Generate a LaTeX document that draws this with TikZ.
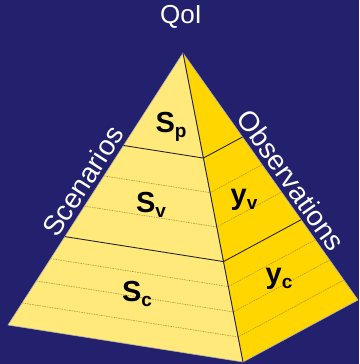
\documentclass[tikz,border=0pt]{standalone}
\usepackage{fontspec}
\setmainfont{Liberation Sans}
\usetikzlibrary{calc}
\definecolor{bgblue}{RGB}{35,33,110}
\definecolor{lightgold}{RGB}{255,233,122}
\definecolor{gold}{RGB}{255,214,0}
\definecolor{hatch}{RGB}{175,150,60}
\newcommand{\lbl}[2]{#1\raisebox{-5pt}{\fontsize{19}{19}\selectfont #2}}

\begin{document}
\begin{tikzpicture}[x=1pt,y=-1pt,
  face/.style={draw=gray!60,line width=0.6pt,line join=round},
  band/.style={draw=black!85,line width=0.9pt},
  level/.style={draw=hatch,dash pattern=on 1.5pt off 1pt,line width=0.6pt},
  side/.style={text=white,font=\fontsize{28}{28}\selectfont},
  part/.style={font=\fontsize{29}{30}\selectfont\bfseries}]
\fill[bgblue] (0,0) rectangle (359,364);
\useasboundingbox (0,0) rectangle (359,364);
% corners of the pyramid
\coordinate (apex) at (183,53);
\coordinate (left) at (8,325);
\coordinate (front) at (243,362);
\coordinate (right) at (358,300);
% faces
\filldraw[face,fill=lightgold] (apex) -- (left) -- (front) -- cycle;
\filldraw[face,fill=gold] (apex) -- (front) -- (right) -- cycle;
% thin levels
\foreach \t in {0.452,0.563,0.756,0.838,0.919}
  \draw[level] ($(apex)!\t!(left)$) -- ($(apex)!\t!(front)$) -- ($(apex)!\t!(right)$);
% band borders
\foreach \t in {0.34,0.675}
  \draw[band] ($(apex)!\t!(left)$) -- ($(apex)!\t!(front)$) -- ($(apex)!\t!(right)$);
\draw[band] (apex) -- (front);
% labels
\node[side,font=\fontsize{26}{26}\selectfont] (qoi) at (181,17) {QoI};
\path (left) -- (apex) node[side,sloped,above=1pt,pos=0.5] (scen) {Scenarios};
\path (apex) -- (right) node[side,sloped,above=1pt,pos=0.55] (obs) {Observations};
\node[part] (sp) at (171,127) {\lbl{S}{p}};
\node[part] (sv) at (151,205) {\lbl{S}{v}};
\node[part] (sc) at (137,294) {\lbl{S}{c}};
\node[part] (yv) at (244,200) {\lbl{y}{v}};
\node[part] (yc) at (279,279) {\lbl{y}{c}};
\end{tikzpicture}
\end{document}
